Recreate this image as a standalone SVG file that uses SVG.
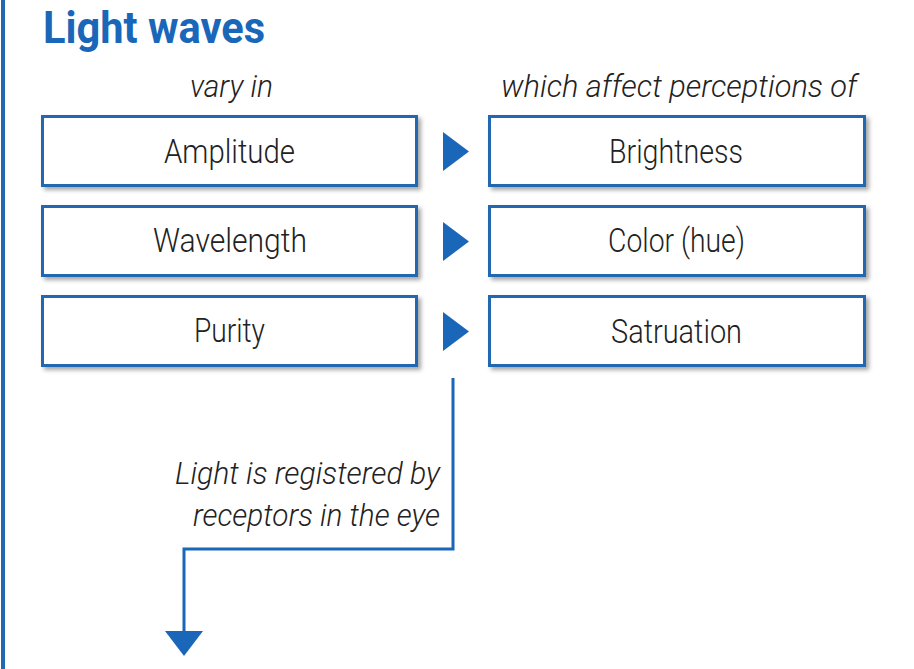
<svg xmlns="http://www.w3.org/2000/svg" width="914" height="669" viewBox="0 0 914 669">
  <style>
    .box { fill: #ffffff; stroke: #2468b0; stroke-width: 3; filter: url(#shadow); }
    .lbl { font-family: Roboto, "Liberation Sans", sans-serif; font-size: 34px; font-weight: 300; fill: #222222; text-anchor: middle; }
    .it { font-family: Roboto, "Liberation Sans", sans-serif; font-size: 31px; font-weight: 300; font-style: italic; fill: #222222; }
    .title { font-family: Roboto, "Liberation Sans", sans-serif; font-size: 45px; font-weight: bold; fill: #1a66b8; }
    .tri { fill: #1a66b8; }
    .conn { fill: none; stroke: #1a66b8; stroke-width: 3; }
  </style>
  <defs>
    <filter id="shadow" x="-10%" y="-20%" width="130%" height="160%">
      <feDropShadow dx="3" dy="3" stdDeviation="2" flood-color="#000000" flood-opacity="0.35"/>
    </filter>
    <marker id="arrowDown" markerUnits="userSpaceOnUse" viewBox="0 0 25 38" markerWidth="25" markerHeight="38" refX="0" refY="19" orient="auto">
      <path d="M0,0 L25,19 L0,38 z" fill="#1a66b8"/>
    </marker>
  </defs>
  <rect width="914" height="669" fill="#ffffff"/>
  <rect x="1" y="0" width="4" height="669" fill="#2468b0"/>

  <text class="title" x="43" y="43" textLength="222" lengthAdjust="spacingAndGlyphs">Light waves</text>
  <text class="it" x="190" y="97" textLength="83" lengthAdjust="spacingAndGlyphs">vary in</text>
  <text class="it" x="501" y="97" textLength="356" lengthAdjust="spacingAndGlyphs">which affect perceptions of</text>

  <g id="amplitude">
    <rect class="box" x="42.5" y="116.5" width="374" height="69"/>
    <text class="lbl" x="229.5" y="163" textLength="131" lengthAdjust="spacingAndGlyphs">Amplitude</text>
  </g>
  <g id="wavelength">
    <rect class="box" x="42.5" y="206.5" width="374" height="69"/>
    <text class="lbl" x="230" y="252" textLength="154" lengthAdjust="spacingAndGlyphs">Wavelength</text>
  </g>
  <g id="purity">
    <rect class="box" x="42.5" y="296.5" width="374" height="69"/>
    <text class="lbl" x="229.5" y="342" textLength="71" lengthAdjust="spacingAndGlyphs">Purity</text>
  </g>
  <g id="brightness">
    <rect class="box" x="489.5" y="116.5" width="375" height="69"/>
    <text class="lbl" x="676" y="163" textLength="134" lengthAdjust="spacingAndGlyphs">Brightness</text>
  </g>
  <g id="color">
    <rect class="box" x="489.5" y="206.5" width="375" height="69"/>
    <text class="lbl" x="676.5" y="252" textLength="137" lengthAdjust="spacingAndGlyphs">Color (hue)</text>
  </g>
  <g id="saturation">
    <rect class="box" x="489.5" y="296.5" width="375" height="69"/>
    <text class="lbl" x="676.5" y="343" textLength="131" lengthAdjust="spacingAndGlyphs">Satruation</text>
  </g>

  <g id="connectors">
    <polygon class="tri" points="443,132 443,171 469,151.5"/>
    <polygon class="tri" points="443,222 443,261 469,241.5"/>
    <polygon class="tri" points="443,312 443,351 469,331.5"/>
    <path class="conn" d="M453,378 L453,549 L184,549 L184,631" marker-end="url(#arrowDown)"/>
    <text class="it" x="175" y="484" textLength="265" lengthAdjust="spacingAndGlyphs">Light is registered by</text>
    <text class="it" x="193" y="526" textLength="247" lengthAdjust="spacingAndGlyphs">receptors in the eye</text>
  </g>
</svg>
